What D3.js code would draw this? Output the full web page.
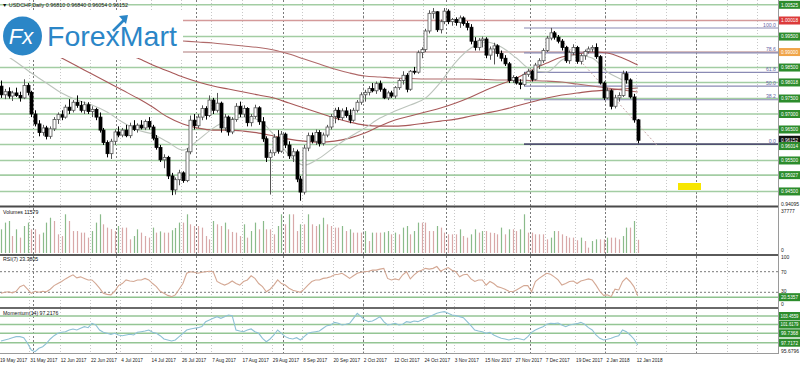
<!DOCTYPE html>
<html><head><meta charset="utf-8">
<script src="https://cdn.jsdelivr.net/npm/d3@7"></script>
<style>body{margin:0;background:#fff}svg{display:block}text{font-family:"Liberation Sans",Arial,sans-serif}</style>
</head><body><svg id="c" width="800" height="366"></svg>
<script>
// ---------------- DATA ----------------
const symbolTitle = "\u25BC USDCHF,Daily  0.96810 0.96840 0.96054 0.96152";
const tickLabels = ["19 May 2017","31 May 2017","12 Jun 2017","22 Jun 2017","4 Jul 2017","14 Jul 2017","26 Jul 2017","7 Aug 2017","17 Aug 2017","29 Aug 2017","8 Sep 2017","20 Sep 2017","2 Oct 2017","12 Oct 2017","24 Oct 2017","3 Nov 2017","15 Nov 2017","27 Nov 2017","7 Dec 2017","19 Dec 2017","2 Jan 2018","12 Jan 2018"];
const barsPerTick = 8;
const monthStartBars = [9,31,52,75,96,118,140,160,184];
// [open, high, low, close]
const ohlc = [
[.9790,.9808,.9752,.9762],[.9762,.9781,.9748,.9772],[.9772,.9786,.9750,.9758],[.9758,.9775,.9742,.9768],[.9768,.9785,.9755,.9760],
[.9760,.9772,.9740,.9752],[.9752,.9812,.9748,.9792],[.9792,.9800,.9760,.9770],[.9770,.9775,.9690,.9700],[.9700,.9712,.9660,.9668],
[.9668,.9680,.9628,.9640],[.9640,.9665,.9630,.9655],[.9655,.9662,.9618,.9628],[.9628,.9660,.9620,.9652],[.9652,.9690,.9645,.9682],
[.9682,.9705,.9668,.9698],[.9698,.9712,.9680,.9690],[.9690,.9730,.9685,.9722],[.9722,.9748,.9700,.9712],[.9712,.9745,.9705,.9738],
[.9738,.9760,.9720,.9728],[.9728,.9742,.9705,.9712],[.9712,.9740,.9700,.9730],[.9730,.9738,.9700,.9708],[.9708,.9725,.9690,.9715],
[.9715,.9720,.9680,.9690],[.9690,.9705,.9640,.9648],[.9648,.9655,.9600,.9608],[.9608,.9615,.9560,.9572],[.9572,.9620,.9555,.9612],
[.9612,.9650,.9600,.9642],[.9642,.9660,.9625,.9632],[.9632,.9655,.9625,.9648],[.9648,.9665,.9625,.9630],[.9630,.9672,.9622,.9662],
[.9662,.9680,.9645,.9650],[.9650,.9670,.9640,.9664],[.9664,.9680,.9650,.9655],[.9655,.9682,.9648,.9676],[.9676,.9690,.9650,.9658],
[.9658,.9665,.9615,.9622],[.9622,.9632,.9585,.9592],[.9592,.9600,.9545,.9552],[.9552,.9570,.9525,.9560],[.9560,.9565,.9490,.9500],
[.9500,.9510,.9438,.9455],[.9455,.9495,.9440,.9488],[.9488,.9520,.9470,.9510],[.9510,.9515,.9478,.9485],[.9485,.9590,.9480,.9578],
[.9578,.9695,.9570,.9680],[.9680,.9700,.9650,.9662],[.9662,.9700,.9655,.9690],[.9690,.9728,.9680,.9718],[.9718,.9725,.9682,.9695],
[.9695,.9760,.9690,.9745],[.9745,.9752,.9700,.9712],[.9712,.9768,.9705,.9735],[.9735,.9740,.9640,.9655],[.9655,.9700,.9645,.9690],
[.9690,.9695,.9630,.9642],[.9642,.9690,.9635,.9682],[.9682,.9735,.9675,.9725],[.9725,.9740,.9690,.9700],[.9700,.9728,.9690,.9718],
[.9718,.9722,.9660,.9672],[.9672,.9700,.9660,.9692],[.9692,.9730,.9685,.9720],[.9720,.9725,.9665,.9675],[.9675,.9690,.9610,.9620],
[.9620,.9628,.9545,.9560],[.9560,.9585,.9440,.9575],[.9575,.9635,.9565,.9625],[.9625,.9648,.9572,.9580],[.9580,.9645,.9575,.9635],
[.9635,.9640,.9590,.9600],[.9600,.9612,.9555,.9565],[.9565,.9590,.9545,.9578],[.9578,.9585,.9480,.9490],[.9490,.9500,.9420,.9448],
[.9448,.9600,.9440,.9590],[.9590,.9640,.9580,.9630],[.9630,.9640,.9605,.9612],[.9612,.9650,.9600,.9640],[.9640,.9648,.9595,.9605],
[.9605,.9640,.9598,.9632],[.9632,.9665,.9625,.9658],[.9658,.9700,.9650,.9692],[.9692,.9720,.9670,.9712],[.9712,.9722,.9680,.9688],
[.9688,.9718,.9680,.9710],[.9710,.9722,.9688,.9695],[.9695,.9715,.9670,.9680],[.9680,.9720,.9675,.9712],[.9712,.9745,.9705,.9738],
[.9738,.9770,.9730,.9762],[.9762,.9778,.9740,.9770],[.9770,.9790,.9760,.9782],[.9782,.9800,.9770,.9775],[.9775,.9805,.9765,.9798],
[.9798,.9808,.9772,.9780],[.9780,.9785,.9748,.9752],[.9752,.9775,.9745,.9768],[.9768,.9775,.9752,.9758],[.9758,.9790,.9750,.9785],
[.9785,.9815,.9778,.9808],[.9808,.9838,.9795,.9825],[.9825,.9832,.9770,.9780],[.9780,.9842,.9775,.9838],[.9838,.9852,.9828,.9835],
[.9835,.9905,.9830,.9898],[.9898,.9915,.9880,.9908],[.9908,.9975,.9900,.9968],[.9968,1.0035,.9960,1.0025],[1.0025,1.0042,1.0008,1.0030],
[1.0030,1.0032,.9965,.9972],[.9972,1.0005,.9960,.9998],[.9998,1.0042,.9990,1.0032],[1.0032,1.0038,.9990,.9998],[.9998,1.0010,.9985,1.0005],
[1.0005,1.0012,.9985,.9995],[.9995,1.0018,.9978,1.0010],[1.0010,1.0015,.9985,.9992],[.9992,1.0000,.9970,.9980],[.9980,.9990,.9925,.9935],
[.9935,.9948,.9905,.9915],[.9915,.9945,.9905,.9938],[.9938,.9950,.9915,.9942],[.9942,.9948,.9880,.9890],[.9890,.9918,.9875,.9910],
[.9910,.9930,.9860,.9920],[.9920,.9925,.9885,.9895],[.9895,.9905,.9870,.9880],[.9880,.9890,.9855,.9862],[.9862,.9868,.9800,.9808],
[.9808,.9825,.9800,.9818],[.9818,.9822,.9795,.9800],[.9800,.9812,.9780,.9795],[.9795,.9835,.9790,.9828],[.9828,.9845,.9820,.9838],
[.9838,.9842,.9805,.9812],[.9812,.9865,.9808,.9858],[.9858,.9880,.9845,.9872],[.9872,.9912,.9865,.9905],[.9905,.9952,.9900,.9945],
[.9945,.9978,.9938,.9962],[.9962,.9968,.9940,.9948],[.9948,.9955,.9928,.9935],[.9935,.9942,.9905,.9915],[.9915,.9920,.9865,.9872],
[.9872,.9905,.9862,.9898],[.9898,.9925,.9890,.9915],[.9915,.9920,.9862,.9870],[.9870,.9895,.9860,.9888],[.9888,.9908,.9875,.9902],
[.9902,.9918,.9895,.9910],[.9910,.9922,.9900,.9915],[.9915,.9928,.9878,.9885],[.9885,.9890,.9795,.9800],[.9800,.9805,.9745,.9752],
[.9752,.9785,.9748,.9775],[.9775,.9780,.9715,.9725],[.9725,.9762,.9718,.9752],[.9752,.9770,.9740,.9760],[.9760,.9840,.9755,.9830],
[.9830,.9838,.9798,.9810],[.9810,.9815,.9750,.9755],[.9755,.9765,.9672,.9681],[.9681,.9684,.96054,.96152]
];
const volumes = [
20800,26700,28100,14900,20800,13500,23700,26700,20800,20800,
16400,17900,26700,31000,28100,16400,14900,34000,28100,19300,
19300,17900,17900,13500,19300,26700,34000,25200,22300,21000,
19300,23700,22300,22300,12000,14900,20800,17900,14900,13500,
22300,17900,19000,17900,17900,20000,22000,26700,26700,34000,
25200,23700,23700,22300,14900,12000,28100,25200,23700,26700,
20800,18500,17900,14900,25200,13500,19300,26700,20800,28100,
20800,20800,16400,23700,34000,25200,34000,34000,19300,25200,
25200,34000,25200,23700,25200,31000,25200,23700,22300,22300,
23700,19300,20800,17900,17900,17900,19300,10500,17900,17900,
17900,18200,19300,16400,17900,16400,22300,23700,16400,19300,
26700,26700,26700,19300,19300,23700,22300,17900,16400,16400,
16400,20800,14900,13500,16400,20800,17900,19300,19300,17900,
17600,16400,22300,16400,20800,20800,19300,20800,34000,17900,
17900,16400,16400,16400,12000,13500,19300,19300,16400,14900,
13500,13500,11200,13500,10500,4700,10500,12000,12000,12000,
13500,13500,13500,12000,14900,22300,22300,28100,11579];
const rsi = [
28,30,31,29,32,41,44,36,28,32,
30,32,31,36,43,47,51,56,60,64,
58,60,57,54,54,47,38,28,26,25,
32,43,47,54,52,51,54,54,57,54,
47,41,32,28,24,21.6,25,36,47,67,
70,69,67,69,70,71,70,51,47,44,
47,52,47,44,51,54,62,57,47,41,
31,36,44,54,47,44,38,34,32,30,
36,44,51,54,54,57,58,60,64,65,
67,62,57,62,67,69,70,71,73,73,
75,76.5,57,54,56,54,64,70,56,64,
70,73,76.5,75,76.5,80,71,75,78,73,
70,60,64,65,56,51,54,54,44,51,
47,41,39,36,32,31,34.5,39,43,43,
31,51,57,62,67,65,60,54,44,47,
51,52,47,52,54,56,54,44,32,24,
25,21.6,36,34.5,51,58,51,41,23.3805];
const momentum = [
98.09,98.30,98.52,98.80,99.02,99.02,98.80,97.59,96.15,95.80,
96.51,96.87,97.59,98.52,99.23,99.74,99.95,100.09,100.45,100.67,
100.45,100.81,101.17,100.95,101.88,101.53,100.45,99.95,99.74,99.52,
99.74,99.38,99.23,99.38,99.52,99.38,99.95,100.09,100.24,100.45,
99.95,99.74,99.23,98.52,98.30,98.09,98.30,99.02,99.74,100.45,
100.67,100.81,100.95,101.17,102.24,102.60,102.96,103.32,102.96,103.32,
103.67,103.53,100.45,100.24,100.09,100.45,100.67,100.09,99.74,98.66,
97.94,98.52,99.38,100.45,99.74,99.02,98.66,98.52,98.80,98.30,
99.02,99.74,99.95,100.09,100.24,100.81,101.38,101.53,102.09,101.88,
101.53,101.67,101.88,102.96,104.03,103.32,102.60,102.24,102.38,102.81,
103.32,102.24,101.53,101.67,101.88,101.53,101.67,102.24,102.09,102.38,
102.24,102.60,102.96,103.32,103.67,104.03,104.25,104.39,104.03,103.67,
103.53,103.32,103.10,102.24,101.38,100.45,100.24,100.09,99.74,99.95,
99.38,99.02,98.66,98.52,98.30,98.52,98.66,98.52,98.30,99.02,
99.95,100.45,100.81,101.17,101.67,101.88,101.81,101.95,101.53,101.17,
101.53,101.67,101.81,102.09,101.67,100.95,100.45,99.38,98.66,98.30,
98.45,98.66,99.02,99.23,100.45,100.09,99.38,98.52,97.2176];
// moving averages, one value every 4 bars
const maStep = 4;
const maFast = [.99000,.98677,.98322,.97999,.97676,.97450,.97288,.97062,.96739,.96481,.96351,.96093,.95835,.96158,.96545,.96804,.96901,.96804,.96319,.95673,.95350,.95576,.95932,.96255,.96545,.96868,.97094,.97288,.97514,.98031,.98677,.99129,.99323,.99162,.98806,.98419,.98354,.98742,.98903,.98806,.98354,.98096,.97837];
const ma50 = [.99775,.99517,.99291,.99065,.98806,.98548,.98289,.98031,.97773,.97514,.97224,.96901,.96674,.96545,.96481,.96481,.96448,.96384,.96287,.96190,.96125,.96093,.96125,.96222,.96384,.96610,.96804,.96933,.97062,.97191,.97353,.97547,.97773,.97966,.98160,.98419,.98645,.98839,.98935,.99000,.98968,.98806,.98580];
const ma100 = [1.00034,.99904,.99775,.99646,.99485,.99355,.99194,.99065,.98935,.98806,.98580,.98386,.98193,.98031,.97902,.97805,.97708,.97611,.97514,.97353,.97191,.97030,.96868,.96739,.96642,.96610,.96610,.96642,.96707,.96771,.96836,.96933,.97030,.97127,.97256,.97385,.97514,.97611,.97676,.97740,.97773,.97805,.97837];
const ma200 = [.99969,.99904,.99840,.99775,.99711,.99646,.99581,.99533,.99485,.99452,.99420,.99388,.99355,.99323,.99291,.99242,.99194,.99145,.99065,.98935,.98774,.98612,.98451,.98322,.98225,.98193,.98160,.98144,.98128,.98128,.98128,.98128,.98112,.98096,.98096,.98079,.98063,.98031,.97966,.97902,.97837,.97773,.97708];
// user horizontal levels
const greenLevels = [1.00525,0.99500,0.98500,0.98018,0.97500,0.97000,0.96500,0.96014,0.95500,0.95027,0.94500];
const greenLabels = ["1.00525","0.99500","0.98500","0.98018","0.97500","0.97000","0.96500","0.96014","0.95500","0.95027","0.94500"];
const redLevel = 1.00018, redLabel = "1.00018";
const orangeLevel = 0.99000, orangeLabel = "0.99000";
const lastPrice = 0.96152, lastLabel = "0.96152";
// fibonacci
const fibHigh = 0.99775, fibLow = 0.96028;
const fibLevels = [100.0,78.6,61.8,50.0,38.2,0.0];
const fibLabels = ["100.0","78.6","61.8","50.0","38.2","0.0"];
const fibStartBar = 138, fibTrend = [[145,0.99775],[173,0.9600]];
const rsiLevelVal = 20.5357, rsiLevelLabel = "20.5357";
const momLevels = [103.4559,101.6179,99.7368,97.7172];
const momLabels = ["103.4559","101.6179","99.7368","97.7172"];

// ---------------- DRAW ----------------
const svg = d3.select("#c");
const plotR = 778;
const x = d3.scaleLinear().domain([0,168]).range([1,637.7]);
const yP = d3.scaleLinear().domain([0.94095,1.0068]).range([204,0]);
const yV = d3.scaleLinear().domain([0,37777]).range([253,210]);
const yR = d3.scaleLinear().domain([0,100]).range([307.75,256.25]);
const yM = d3.scaleLinear().domain([95.6796,104.96]).range([352.2,309]);
const panes = {main:[0,206], vol:[207,255], rsi:[256,308], mom:[309,353]};

const defs = svg.append("defs");
Object.entries(panes).forEach(([k,[a,b]])=>{
  defs.append("clipPath").attr("id","cp-"+k).append("rect").attr("x",0).attr("y",a).attr("width",plotR).attr("height",b-a);
});
const F = "Liberation Sans, Arial, sans-serif";

// grid
const gGrid = svg.append("g");
for(let k=0;k<30;k++){
  const gx = Math.round(x(k*barsPerTick)-2)+0.5;
  if (gx>plotR) break;
  gGrid.append("line").attr("x1",gx).attr("x2",gx).attr("y1",0).attr("y2",353)
    .attr("stroke","#c8c8c8").attr("stroke-width",1).attr("stroke-dasharray","1,2");
}
monthStartBars.forEach(b=>{
  const gx = Math.round(x(b)-2)+0.5;
  gGrid.append("line").attr("x1",gx).attr("x2",gx).attr("y1",0).attr("y2",353)
    .attr("stroke","#7a7a7a").attr("stroke-width",1).attr("stroke-dasharray","2,2");
});

// main pane
const gMain = svg.append("g").attr("clip-path","url(#cp-main)");
greenLevels.forEach(v=>{
  gMain.append("line").attr("x1",0).attr("x2",plotR).attr("y1",yP(v)).attr("y2",yP(v))
    .attr("stroke","#a3cda3").attr("stroke-width",1.6);
});
gMain.append("line").attr("x1",0).attr("x2",plotR).attr("y1",yP(redLevel)).attr("y2",yP(redLevel)).attr("stroke","#d49a9a").attr("stroke-width",1.6);
gMain.append("line").attr("x1",0).attr("x2",plotR).attr("y1",yP(orangeLevel)).attr("y2",yP(orangeLevel)).attr("stroke","#c8a6a6").attr("stroke-width",1.6);

// fib
const fibY = l => yP(fibLow + (fibHigh-fibLow)*l/100);
fibLevels.forEach((l,i)=>{
  gMain.append("line").attr("x1",x(fibStartBar)).attr("x2",plotR).attr("y1",fibY(l)).attr("y2",fibY(l))
    .attr("stroke", l===0 ? "#505070" : "#8a8ab4").attr("stroke-width", l===0?1.6:1.1);
  gMain.append("text").attr("x",776).attr("y",fibY(l)-1.5).attr("text-anchor","end")
    .attr("font-size",5.2).attr("fill","#6a6aa6").attr("font-family",F).text(fibLabels[i]);
});
gMain.append("line").attr("x1",x(fibTrend[0][0])).attr("y1",yP(fibTrend[0][1]))
  .attr("x2",x(fibTrend[1][0])).attr("y2",yP(fibTrend[1][1]))
  .attr("stroke","#c8a8a8").attr("stroke-width",1).attr("stroke-dasharray","2,2");

// moving averages
const maLine = d3.line().x((d,i)=>x(i*maStep)).y(d=>yP(d)).curve(d3.curveMonotoneX);
[[ma200,"#b06a6a"],[ma100,"#a85858"],[ma50,"#a85a5a"],[maFast,"#bcc4bc"]].forEach(([arr,c])=>{
  gMain.append("path").attr("d",maLine(arr)).attr("fill","none").attr("stroke",c).attr("stroke-width",1.1);
});

// logo background
const gLogo = svg.append("g");
gLogo.append("rect").attr("x",0).attr("y",10).attr("width",183).attr("height",48).attr("fill","#fff");

// candles
const gC = svg.append("g").attr("clip-path","url(#cp-main)");
ohlc.forEach((d,i)=>{
  const [o,h,l,c] = d, cx = Math.round(x(i))+0.5, bull = c>=o;
  gC.append("line").attr("x1",cx).attr("x2",cx).attr("y1",yP(h)).attr("y2",yP(l))
    .attr("stroke", bull ? "#555" : "#000").attr("stroke-width",1);
  const top = yP(Math.max(o,c)), bot = yP(Math.min(o,c));
  gC.append("rect").attr("x",cx-1.5).attr("y",top).attr("width",3).attr("height",Math.max(0.8,bot-top))
    .attr("fill", bull ? "#fff" : "#000").attr("stroke", bull ? "#555" : "#000").attr("stroke-width",0.8);
});

// yellow marker
svg.append("rect").attr("x",678).attr("y",183).attr("width",23).attr("height",7).attr("fill","#f7e600");

// logo
gLogo.append("circle").attr("cx",22.5).attr("cy",36).attr("r",19.5).attr("fill","#2b86c7");
gLogo.append("text").attr("x",21).attr("y",44).attr("text-anchor","middle").attr("font-size",22)
  .attr("font-family","DejaVu Sans, sans-serif").attr("fill","#fff").attr("font-style","italic").text("Fx");
gLogo.append("text").attr("x",47).attr("y",46).attr("font-size",28.5).attr("font-family",F)
  .attr("fill","#2b86c7").text("ForexMart");
gLogo.append("path").attr("d","M113,31 L124,20").attr("stroke","#2b86c7").attr("stroke-width",2.6);
gLogo.append("path").attr("d","M119,16 L128,15 L126,24 Z").attr("fill","#2b86c7");

// title
svg.append("text").attr("x",2).attr("y",7).attr("font-size",5.4).attr("font-family",F).attr("fill","#111").text(symbolTitle);

// volumes
const gV = svg.append("g").attr("clip-path","url(#cp-vol)");
volumes.forEach((v,i)=>{
  const up = i===0 ? true : v>volumes[i-1];
  const cx = Math.round(x(i))+0.5;
  gV.append("line").attr("x1",cx).attr("x2",cx).attr("y1",yV(0)).attr("y2",yV(v))
    .attr("stroke", up ? "#8abb8a" : "#d8a8a8").attr("stroke-width",1.2);
});
svg.append("text").attr("x",3).attr("y",214).attr("font-size",5.2).attr("font-family",F).attr("fill","#111").text("Volumes " + volumes[volumes.length-1]);

// RSI
const gR = svg.append("g").attr("clip-path","url(#cp-rsi)");
[70,30].forEach(v=>{
  gR.append("line").attr("x1",0).attr("x2",plotR).attr("y1",yR(v)).attr("y2",yR(v))
    .attr("stroke","#6a6a6a").attr("stroke-width",0.9).attr("stroke-dasharray","2,2");
});
gR.append("line").attr("x1",0).attr("x2",plotR).attr("y1",yR(rsiLevelVal)).attr("y2",yR(rsiLevelVal)).attr("stroke","#8ec28e").attr("stroke-width",1.5);
gR.append("path").attr("d",d3.line().x((d,i)=>x(i)).y(d=>yR(d))(rsi)).attr("fill","none").attr("stroke","#d4a894").attr("stroke-width",1.1);
svg.append("text").attr("x",3).attr("y",261).attr("font-size",5.2).attr("font-family",F).attr("fill","#111").text("RSI(7) " + rsi[rsi.length-1].toFixed(4));

// Momentum
const gM = svg.append("g").attr("clip-path","url(#cp-mom)");
momLevels.forEach(v=>{
  gM.append("line").attr("x1",0).attr("x2",plotR).attr("y1",yM(v)).attr("y2",yM(v)).attr("stroke","#94c594").attr("stroke-width",1.5);
});
gM.append("path").attr("d",d3.line().x((d,i)=>x(i)).y(d=>yM(d))(momentum)).attr("fill","none").attr("stroke","#8ec0d4").attr("stroke-width",1.1);
svg.append("text").attr("x",3).attr("y",315).attr("font-size",5.2).attr("font-family",F).attr("fill","#111").text("Momentum(14) " + momentum[momentum.length-1].toFixed(4));

// pane borders
[[206.5,2,"#4a4a4a"],[255,2,"#5a5a5a"],[308,2.2,"#6a6a6a"],[353.5,1,"#9a9a9a"]].forEach(([yy,w,c])=>{
  svg.append("line").attr("x1",0).attr("x2",plotR).attr("y1",yy).attr("y2",yy).attr("stroke",c).attr("stroke-width",w);
});
svg.append("line").attr("x1",plotR+0.5).attr("x2",plotR+0.5).attr("y1",0).attr("y2",354).attr("stroke","#9a9a9a").attr("stroke-width",1);

// right labels
function boxLabel(yy, txt, bg, fg){
  svg.append("rect").attr("x",779).attr("y",yy-4).attr("width",21).attr("height",8).attr("fill",bg);
  svg.append("text").attr("x",789.5).attr("y",yy+1.8).attr("text-anchor","middle").attr("font-size",4.8)
    .attr("font-family",F).attr("fill",fg||"#fff").attr("textLength",txt.length>7?18:17).attr("lengthAdjust","spacingAndGlyphs").text(txt);
}
function plainLabel(yy, txt){
  svg.append("text").attr("x",781).attr("y",yy+2).attr("font-size",5).attr("font-family",F).attr("fill","#222").text(txt);
}
greenLevels.forEach((v,i)=>{ if(i!==7) boxLabel(yP(v), greenLabels[i], "#2c8c2c"); });
boxLabel(yP(redLevel), redLabel, "#dc3a3a");
boxLabel(yP(orangeLevel), orangeLabel, "#f0a448");
boxLabel(yP(lastPrice)-0.5, lastLabel, "#111");
boxLabel(yP(greenLevels[7])+1.5, greenLabels[7], "#2c8c2c");
plainLabel(203.5, "0.94095");
plainLabel(210.5, "37777");
plainLabel(250, "0");
plainLabel(yR(100)+1, "100");
plainLabel(yR(70), "70");
plainLabel(yR(30)-1, "30");
plainLabel(yR(0)-3.5, "0");
boxLabel(yR(rsiLevelVal), rsiLevelLabel, "#2c8c2c");
momLevels.forEach((v,i)=> boxLabel(yM(v), momLabels[i], "#2c8c2c"));
plainLabel(351, "95.6796");

// time axis labels
tickLabels.forEach((t,k)=>{
  svg.append("text").attr("x",x(k*barsPerTick)-1).attr("y",362).attr("font-size",4.7)
    .attr("font-family",F).attr("fill","#222").text(t);
});
</script></body></html>
